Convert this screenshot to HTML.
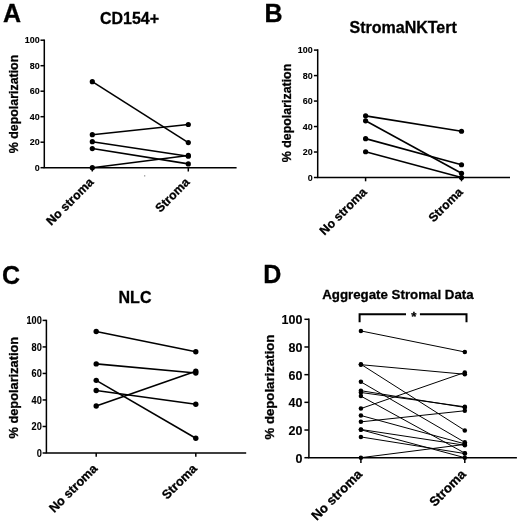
<!DOCTYPE html>
<html><head><meta charset="utf-8"><style>
html,body{margin:0;padding:0;background:#fff;}
body{width:520px;height:523px;overflow:hidden;}
svg{display:block;will-change:transform;}
.b{font-family:"Liberation Sans", sans-serif;font-weight:bold;fill:#000;stroke:#000;stroke-width:0.3px;}
.t{stroke-width:0.12px;}
</style></head><body>
<svg width="520" height="523" viewBox="0 0 520 523">
<rect width="520" height="523" fill="#fff"/>
<rect x="144" y="175.2" width="1.3" height="1.3" fill="#999"/>
<g><text x="3" y="22.2" font-size="25" class="b">A</text>
<text x="129.5" y="23.8" font-size="16" class="b" text-anchor="middle">CD154+</text>
<path d="M44.3 39.45V167.7H236.6" fill="none" stroke="#000" stroke-width="1.5"/>
<path d="M40.5 167.7H44.3" stroke="#000" stroke-width="1.5"/>
<text transform="translate(39.7 170.73) scale(0.91 1)" font-size="9.8" class="b t" text-anchor="end">0</text>
<path d="M40.5 142.2H44.3" stroke="#000" stroke-width="1.5"/>
<text transform="translate(39.7 145.23) scale(0.91 1)" font-size="9.8" class="b t" text-anchor="end">20</text>
<path d="M40.5 116.7H44.3" stroke="#000" stroke-width="1.5"/>
<text transform="translate(39.7 119.73) scale(0.91 1)" font-size="9.8" class="b t" text-anchor="end">40</text>
<path d="M40.5 91.2H44.3" stroke="#000" stroke-width="1.5"/>
<text transform="translate(39.7 94.23) scale(0.91 1)" font-size="9.8" class="b t" text-anchor="end">60</text>
<path d="M40.5 65.7H44.3" stroke="#000" stroke-width="1.5"/>
<text transform="translate(39.7 68.73) scale(0.91 1)" font-size="9.8" class="b t" text-anchor="end">80</text>
<path d="M40.5 40.2H44.3" stroke="#000" stroke-width="1.5"/>
<text transform="translate(39.7 43.23) scale(0.91 1)" font-size="9.8" class="b t" text-anchor="end">100</text>
<path d="M92.3 167.7V171.5" stroke="#000" stroke-width="1.5"/>
<path d="M188.3 167.7V171.5" stroke="#000" stroke-width="1.5"/>
<text transform="translate(94.3 183) rotate(-45)" font-size="12.3" class="b" text-anchor="end">No stroma</text>
<text transform="translate(190.3 183) rotate(-45)" font-size="12.3" class="b" text-anchor="end">Stroma</text>
<text transform="translate(17.6 104) rotate(-90)" font-size="12.4" class="b" text-anchor="middle">% depolarization</text>
<path d="M92.3 81.64L188.3 142.58" stroke="#000" stroke-width="1.6"/>
<path d="M92.3 134.68L188.3 124.48" stroke="#000" stroke-width="1.6"/>
<path d="M92.3 141.69L188.3 156.22" stroke="#000" stroke-width="1.6"/>
<path d="M92.3 148.57L188.3 163.88" stroke="#000" stroke-width="1.6"/>
<path d="M92.3 167.7L188.3 155.46" stroke="#000" stroke-width="1.6"/>
<circle cx="92.3" cy="81.64" r="2.6"/>
<circle cx="188.3" cy="142.58" r="2.6"/>
<circle cx="92.3" cy="134.68" r="2.6"/>
<circle cx="188.3" cy="124.48" r="2.6"/>
<circle cx="92.3" cy="141.69" r="2.6"/>
<circle cx="188.3" cy="156.22" r="2.6"/>
<circle cx="92.3" cy="148.57" r="2.6"/>
<circle cx="188.3" cy="163.88" r="2.6"/>
<circle cx="92.3" cy="167.7" r="2.6"/>
<circle cx="188.3" cy="155.46" r="2.6"/></g>
<g><text x="264.6" y="21.9" font-size="25" class="b">B</text>
<text x="403.2" y="33" font-size="16" class="b" text-anchor="middle">StromaNKTert</text>
<path d="M317.7 49.35V177.5H510" fill="none" stroke="#000" stroke-width="1.5"/>
<path d="M313.9 177.5H317.7" stroke="#000" stroke-width="1.5"/>
<text transform="translate(312.7 180.53) scale(0.91 1)" font-size="9.8" class="b t" text-anchor="end">0</text>
<path d="M313.9 152.02H317.7" stroke="#000" stroke-width="1.5"/>
<text transform="translate(312.7 155.05) scale(0.91 1)" font-size="9.8" class="b t" text-anchor="end">20</text>
<path d="M313.9 126.54H317.7" stroke="#000" stroke-width="1.5"/>
<text transform="translate(312.7 129.57) scale(0.91 1)" font-size="9.8" class="b t" text-anchor="end">40</text>
<path d="M313.9 101.06H317.7" stroke="#000" stroke-width="1.5"/>
<text transform="translate(312.7 104.09) scale(0.91 1)" font-size="9.8" class="b t" text-anchor="end">60</text>
<path d="M313.9 75.58H317.7" stroke="#000" stroke-width="1.5"/>
<text transform="translate(312.7 78.61) scale(0.91 1)" font-size="9.8" class="b t" text-anchor="end">80</text>
<path d="M313.9 50.1H317.7" stroke="#000" stroke-width="1.5"/>
<text transform="translate(312.7 53.13) scale(0.91 1)" font-size="9.8" class="b t" text-anchor="end">100</text>
<path d="M365.6 177.5V181.3" stroke="#000" stroke-width="1.5"/>
<path d="M461.5 177.5V181.3" stroke="#000" stroke-width="1.5"/>
<text transform="translate(367.6 192.8) rotate(-45)" font-size="12.3" class="b" text-anchor="end">No stroma</text>
<text transform="translate(463.5 192.8) rotate(-45)" font-size="12.3" class="b" text-anchor="end">Stroma</text>
<text transform="translate(290.8 113) rotate(-90)" font-size="12.4" class="b" text-anchor="middle">% depolarization</text>
<path d="M365.6 115.84L461.5 131.25" stroke="#000" stroke-width="1.6"/>
<path d="M365.6 120.81L461.5 173.3" stroke="#000" stroke-width="1.6"/>
<path d="M365.6 138.64L461.5 164.76" stroke="#000" stroke-width="1.6"/>
<path d="M365.6 151.77L461.5 177.5" stroke="#000" stroke-width="1.6"/>
<circle cx="365.6" cy="115.84" r="2.6"/>
<circle cx="461.5" cy="131.25" r="2.6"/>
<circle cx="365.6" cy="120.81" r="2.6"/>
<circle cx="461.5" cy="173.3" r="2.6"/>
<circle cx="365.6" cy="138.64" r="2.6"/>
<circle cx="461.5" cy="164.76" r="2.6"/>
<circle cx="365.6" cy="151.77" r="2.6"/>
<circle cx="461.5" cy="177.5" r="2.6"/></g>
<g><text x="1.9" y="283.6" font-size="25" class="b">C</text>
<text x="135" y="302.8" font-size="16" class="b" text-anchor="middle">NLC</text>
<path d="M46.4 319.65V453H246.2" fill="none" stroke="#000" stroke-width="1.5"/>
<path d="M42.6 453H46.4" stroke="#000" stroke-width="1.5"/>
<text transform="translate(41.8 456.74) scale(0.91 1)" font-size="10.1" class="b t" text-anchor="end">0</text>
<path d="M42.6 426.48H46.4" stroke="#000" stroke-width="1.5"/>
<text transform="translate(41.8 430.22) scale(0.91 1)" font-size="10.1" class="b t" text-anchor="end">20</text>
<path d="M42.6 399.96H46.4" stroke="#000" stroke-width="1.5"/>
<text transform="translate(41.8 403.7) scale(0.91 1)" font-size="10.1" class="b t" text-anchor="end">40</text>
<path d="M42.6 373.44H46.4" stroke="#000" stroke-width="1.5"/>
<text transform="translate(41.8 377.18) scale(0.91 1)" font-size="10.1" class="b t" text-anchor="end">60</text>
<path d="M42.6 346.92H46.4" stroke="#000" stroke-width="1.5"/>
<text transform="translate(41.8 350.66) scale(0.91 1)" font-size="10.1" class="b t" text-anchor="end">80</text>
<path d="M42.6 320.4H46.4" stroke="#000" stroke-width="1.5"/>
<text transform="translate(41.8 324.14) scale(0.91 1)" font-size="10.1" class="b t" text-anchor="end">100</text>
<path d="M96.2 453V456.8" stroke="#000" stroke-width="1.5"/>
<path d="M195.8 453V456.8" stroke="#000" stroke-width="1.5"/>
<text transform="translate(98.2 469.3) rotate(-45)" font-size="12.6" class="b" text-anchor="end">No stroma</text>
<text transform="translate(197.8 469.3) rotate(-45)" font-size="12.6" class="b" text-anchor="end">Stroma</text>
<text transform="translate(18.2 387.7) rotate(-90)" font-size="12.8" class="b" text-anchor="middle">% depolarization</text>
<path d="M96.2 331.54L195.8 351.69" stroke="#000" stroke-width="1.6"/>
<path d="M96.2 363.89L195.8 373.04" stroke="#000" stroke-width="1.6"/>
<path d="M96.2 380.34L195.8 438.28" stroke="#000" stroke-width="1.6"/>
<path d="M96.2 390.55L195.8 404.2" stroke="#000" stroke-width="1.6"/>
<path d="M96.2 405.93L195.8 371.32" stroke="#000" stroke-width="1.6"/>
<circle cx="96.2" cy="331.54" r="2.7"/>
<circle cx="195.8" cy="351.69" r="2.7"/>
<circle cx="96.2" cy="363.89" r="2.7"/>
<circle cx="195.8" cy="373.04" r="2.7"/>
<circle cx="96.2" cy="380.34" r="2.7"/>
<circle cx="195.8" cy="438.28" r="2.7"/>
<circle cx="96.2" cy="390.55" r="2.7"/>
<circle cx="195.8" cy="404.2" r="2.7"/>
<circle cx="96.2" cy="405.93" r="2.7"/>
<circle cx="195.8" cy="371.32" r="2.7"/></g>
<g><text x="263.2" y="282.8" font-size="25" class="b">D</text>
<text x="397.9" y="299.4" font-size="13.3" class="b" text-anchor="middle">Aggregate Stromal Data</text>
<path d="M308.9 318.55V457.7H516.9" fill="none" stroke="#000" stroke-width="1.5"/>
<path d="M304.4 457.7H308.9" stroke="#000" stroke-width="1.5"/>
<text transform="translate(302.4 462.6) scale(0.92 1)" font-size="13.6" class="b t" text-anchor="end">0</text>
<path d="M304.4 430.02H308.9" stroke="#000" stroke-width="1.5"/>
<text transform="translate(302.4 434.92) scale(0.92 1)" font-size="13.6" class="b t" text-anchor="end">20</text>
<path d="M304.4 402.34H308.9" stroke="#000" stroke-width="1.5"/>
<text transform="translate(302.4 407.24) scale(0.92 1)" font-size="13.6" class="b t" text-anchor="end">40</text>
<path d="M304.4 374.66H308.9" stroke="#000" stroke-width="1.5"/>
<text transform="translate(302.4 379.56) scale(0.92 1)" font-size="13.6" class="b t" text-anchor="end">60</text>
<path d="M304.4 346.98H308.9" stroke="#000" stroke-width="1.5"/>
<text transform="translate(302.4 351.88) scale(0.92 1)" font-size="13.6" class="b t" text-anchor="end">80</text>
<path d="M304.4 319.3H308.9" stroke="#000" stroke-width="1.5"/>
<text transform="translate(302.4 324.2) scale(0.92 1)" font-size="13.6" class="b t" text-anchor="end">100</text>
<path d="M360.9 457.7V462.9" stroke="#000" stroke-width="1.5"/>
<path d="M464.8 457.7V462.9" stroke="#000" stroke-width="1.5"/>
<text transform="translate(362.9 475) rotate(-45)" font-size="13.2" class="b" text-anchor="end">No stroma</text>
<text transform="translate(466.8 475) rotate(-45)" font-size="13.2" class="b" text-anchor="end">Stroma</text>
<text transform="translate(273.5 387.1) rotate(-90)" font-size="13.2" class="b" text-anchor="middle">% depolarization</text>
<path d="M360.9 364.28L464.8 430.44" stroke="#000" stroke-width="1"/>
<path d="M360.9 421.85L464.8 410.78" stroke="#000" stroke-width="1"/>
<path d="M360.9 429.47L464.8 445.24" stroke="#000" stroke-width="1"/>
<path d="M360.9 436.94L464.8 453.55" stroke="#000" stroke-width="1"/>
<path d="M360.9 457.7L464.8 444.41" stroke="#000" stroke-width="1"/>
<path d="M360.9 390.71L464.8 407.46" stroke="#000" stroke-width="1"/>
<path d="M360.9 396.11L464.8 453.13" stroke="#000" stroke-width="1"/>
<path d="M360.9 415.49L464.8 443.86" stroke="#000" stroke-width="1"/>
<path d="M360.9 429.74L464.8 457.7" stroke="#000" stroke-width="1"/>
<path d="M360.9 330.93L464.8 351.96" stroke="#000" stroke-width="1"/>
<path d="M360.9 364.7L464.8 374.24" stroke="#000" stroke-width="1"/>
<path d="M360.9 381.86L464.8 442.34" stroke="#000" stroke-width="1"/>
<path d="M360.9 392.51L464.8 406.77" stroke="#000" stroke-width="1"/>
<path d="M360.9 408.57L464.8 372.45" stroke="#000" stroke-width="1"/>
<circle cx="360.9" cy="364.28" r="2.25"/>
<circle cx="464.8" cy="430.44" r="2.25"/>
<circle cx="360.9" cy="421.85" r="2.25"/>
<circle cx="464.8" cy="410.78" r="2.25"/>
<circle cx="360.9" cy="429.47" r="2.25"/>
<circle cx="464.8" cy="445.24" r="2.25"/>
<circle cx="360.9" cy="436.94" r="2.25"/>
<circle cx="464.8" cy="453.55" r="2.25"/>
<circle cx="360.9" cy="457.7" r="2.25"/>
<circle cx="464.8" cy="444.41" r="2.25"/>
<circle cx="360.9" cy="390.71" r="2.25"/>
<circle cx="464.8" cy="407.46" r="2.25"/>
<circle cx="360.9" cy="396.11" r="2.25"/>
<circle cx="464.8" cy="453.13" r="2.25"/>
<circle cx="360.9" cy="415.49" r="2.25"/>
<circle cx="464.8" cy="443.86" r="2.25"/>
<circle cx="360.9" cy="429.74" r="2.25"/>
<circle cx="464.8" cy="457.7" r="2.25"/>
<circle cx="360.9" cy="330.93" r="2.25"/>
<circle cx="464.8" cy="351.96" r="2.25"/>
<circle cx="360.9" cy="364.7" r="2.25"/>
<circle cx="464.8" cy="374.24" r="2.25"/>
<circle cx="360.9" cy="381.86" r="2.25"/>
<circle cx="464.8" cy="442.34" r="2.25"/>
<circle cx="360.9" cy="392.51" r="2.25"/>
<circle cx="464.8" cy="406.77" r="2.25"/>
<circle cx="360.9" cy="408.57" r="2.25"/>
<circle cx="464.8" cy="372.45" r="2.25"/>
<path d="M359.6 322.3V314.3H406M419.9 314.3H466.5V322.3" fill="none" stroke="#000" stroke-width="2"/>
<text x="413.8" y="320.7" font-size="13.3" class="b" text-anchor="middle">*</text></g>
</svg>
</body></html>
